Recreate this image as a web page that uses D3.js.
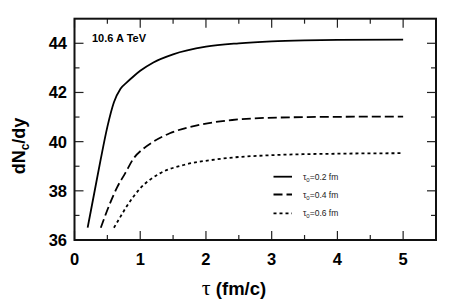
<!DOCTYPE html>
<html><head><meta charset="utf-8">
<script src="https://cdn.jsdelivr.net/npm/d3@7"></script>
<style>body{margin:0;background:#fff;} svg{display:block;}</style>
</head><body>
<svg id="c" width="449" height="303"></svg>
<script>
const tau02 = [0.2,0.3,0.4,0.5,0.6,0.7,0.8,0.9,1.0,1.2,1.5,2.0,2.5,3.0,3.5,4.0,5.0];
const dn02  = [36.5,37.9,39.3,40.6,41.6,42.15,42.42,42.66,42.88,43.22,43.55,43.86,44.0,44.08,44.12,44.14,44.15];
const tau04 = [0.4,0.54,0.65,0.77,0.9,1.05,1.2,1.45,1.9,2.4,3.1,4.0,5.0];
const dn04  = [36.5,37.49,38.15,38.71,39.32,39.72,40.0,40.34,40.68,40.88,40.98,41.01,41.02];
const tau06 = [0.6,0.7,0.79,1.0,1.3,1.66,2.16,3.1,4.0,5.0];
const dn06  = [36.5,36.95,37.35,38.1,38.71,39.05,39.28,39.46,39.51,39.53];
const xTicks = [0,1,2,3,4,5];
const yTicks = [36,38,40,42,44];
const legendLabels = ["0.2","0.4","0.6"];

const svg = d3.select("#c");
const x = d3.scaleLinear().domain([0,5.5]).range([74.5,436]);
const y = d3.scaleLinear().domain([36,45]).range([240,18.7]);
const FONT = "'Liberation Sans', Arial, sans-serif";

const series = [
  {t:tau02, v:dn02, dash:null},
  {t:tau04, v:dn04, dash:"9,4"},
  {t:tau06, v:dn06, dash:"3,3"}
];
const line = d3.line().x(d=>x(d[0])).y(d=>y(d[1])).curve(d3.curveMonotoneX);
series.forEach(s=>{
  svg.append("path").datum(s.t.map((t,i)=>[t,s.v[i]]))
    .attr("d",line).attr("fill","none").attr("stroke","#000")
    .attr("stroke-width",1.8).attr("stroke-dasharray",s.dash);
});

// axes with inside ticks
const g = svg.append("g");
const xMinor = d3.range(0.5,5.5,1);
const yMinor = d3.range(37,45,2);
function tick(x1,y1,x2,y2){g.append("line").attr("x1",x1).attr("y1",y1).attr("x2",x2).attr("y2",y2).attr("stroke","#222").attr("stroke-width",1.2);}
xTicks.forEach(t=>{tick(x(t),240,x(t),231);tick(x(t),18.7,x(t),27.7);});
xMinor.forEach(t=>{tick(x(t),240,x(t),235);tick(x(t),18.7,x(t),23.7);});
yTicks.forEach(t=>{tick(74.5,y(t),83.5,y(t));tick(436,y(t),427,y(t));});
yMinor.forEach(t=>{tick(74.5,y(t),79.5,y(t));tick(436,y(t),431,y(t));});

svg.append("rect").attr("x",74.5).attr("y",18.7).attr("width",436-74.5).attr("height",240-18.7)
  .attr("fill","none").attr("stroke","#111").attr("stroke-width",2);

// tick labels
xTicks.forEach(t=>{
  svg.append("text").attr("x",x(t)).attr("y",265).attr("text-anchor","middle")
    .attr("font-family",FONT).attr("font-weight","bold").attr("font-size",16.5).text(t);
});
yTicks.forEach(t=>{
  svg.append("text").attr("x",67).attr("y",y(t)+6).attr("text-anchor","end")
    .attr("font-family",FONT).attr("font-weight","bold").attr("font-size",16.5).text(t);
});

// axis titles
const xt = svg.append("text").attr("x",234).attr("y",295).attr("text-anchor","middle")
  .attr("font-family",FONT).attr("font-weight","bold").attr("font-size",18.5);
xt.append("tspan").attr("font-family","'Liberation Serif', serif").attr("font-weight","normal").attr("font-size",22).text("τ");
xt.append("tspan").text(" (fm/c)");

const yt = svg.append("text").attr("transform","translate(25,146) rotate(-90)").attr("text-anchor","middle")
  .attr("font-family",FONT).attr("font-weight","bold").attr("font-size",18);
yt.append("tspan").text("dN");
yt.append("tspan").attr("font-size",12).attr("dy",4).text("c");
yt.append("tspan").attr("dy",-4).text("/dy");

svg.append("text").attr("x",92).attr("y",41.5).attr("font-family",FONT).attr("font-weight","bold")
  .attr("font-size",11).text("10.6 A TeV");

// legend
const ly = [176.7,194.5,213.3];
series.forEach((s,i)=>{
  svg.append("line").attr("x1",273.5).attr("x2",292).attr("y1",ly[i]).attr("y2",ly[i])
    .attr("stroke","#000").attr("stroke-width",1.8).attr("stroke-dasharray",s.dash);
  const tx = svg.append("text").attr("x",303).attr("y",ly[i]+3).attr("font-family",FONT)
    .attr("font-size",8.5).attr("fill","#222");
  tx.append("tspan").text("τ");
  tx.append("tspan").attr("font-size",6).attr("dy",2).text("0");
  tx.append("tspan").attr("dy",-2).text("=" + legendLabels[i] + " fm");
});
</script>
</body></html>
